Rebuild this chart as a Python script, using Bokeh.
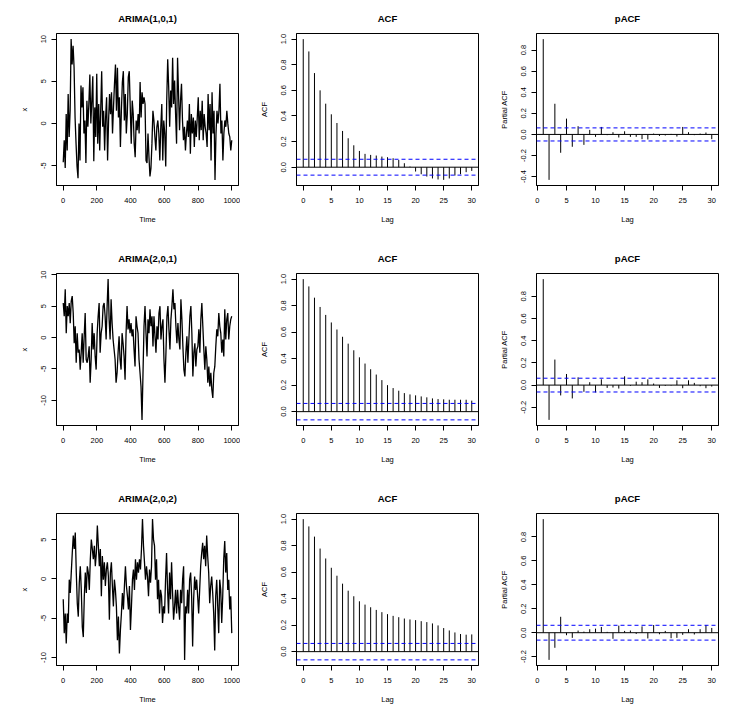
import numpy as np
from bokeh.plotting import figure
from bokeh.layouts import gridplot
from bokeh.models import Range1d, FixedTicker, Span, PrintfTickFormatter
from bokeh.embed import file_html
from bokeh.resources import INLINE

# ---------------- data ----------------
ts_titles = ["ARIMA(1,0,1)", "ARIMA(2,0,1)", "ARIMA(2,0,2)"]
n_obs = 1000

ts1_values = [-4.6, -2.0, -5.3, 1.1, -3.2, 3.5, -1.6, 1.5, 10.0, 7.0, 9.2, 6.6, 0.7, -2.4, -5.1, -6.5, 0.0, -4.4, 4.5, 1.9,
              4.3, -1.2, 0.35, -4.7, 2.7, -0.4, 2.3, 5.8, 0.0, 2.7, 5.6, -4.5, 1.9, -1.6, 5.9, -2.4, 2.3, -3.2, 1.5, 6.2,
              -0.4, 1.5, -3.2, 0.7, 3.1, -4.4, 0.35, 3.5, 1.1, 3.7, -1.2, 1.9, 4.7, 7.0, 1.5, 6.6, 0.7, 3.1, -2.8, 1.5,
              4.9, 6.2, 0.35, 3.5, -1.2, 1.1, 5.5, 6.2, 1.9, -2.4, 2.7, 1.1, -2.4, -4.0, 0.35, -0.8, 1.1, -1.2, 4.9, 0.7,
              3.7, 2.3, 3.1, 2.3, -4.4, -4.7, -1.2, -4.0, -6.3, -5.3, -2.4, 1.5, 0.35, -1.6, -3.2, -0.4, 0.35, -1.2, -4.4, -0.4,
              2.3, -4.4, 0.35, -1.2, -5.1, 2.7, 7.6, 4.3, -0.4, 3.9, 1.9, 7.8, 2.3, 5.1, 1.1, -2.4, 7.8, 3.5, -0.8, 2.7,
              4.7, 0.35, -2.0, -0.4, -3.2, -1.2, 0.35, -1.6, 2.3, -3.6, 1.1, -1.2, 0.7, -2.8, 0.35, -1.6, 0.7, 3.1, -2.0, 1.5,
              -0.8, 2.7, -2.0, 1.1, -0.4, -1.2, -2.8, 3.5, -0.8, 2.3, -4.4, 3.7, -1.2, 1.5, -6.7, -1.2, 1.5, 0.0, 1.5, 4.7,
              -1.2, 0.35, -4.4, -1.2, 0.35, -0.4, 1.5, 0.0, -1.2, -1.6, -3.2, -2.0]

ts2_values = [5.5, 3.4, 7.7, 0.7, 5.0, 3.4, 5.5, 2.3, 5.8, 6.6, 3.9, -0.9, 1.8, -4.0, 0.7, -2.4, -1.9, -5.1, -2.4, 0.7,
              -4.0, 0.2, 3.9, -3.5, -4.0, -3.0, -1.4, -7.2, -3.5, 2.3, -1.9, 0.7, -3.0, -5.1, 0.7, 3.4, 5.5, -2.4, 0.7, 1.8,
              5.0, 5.5, 3.4, -0.3, 5.0, 9.3, 2.9, -0.3, 6.1, 2.3, -0.3, -1.9, -3.5, -7.2, -5.6, -2.4, 0.2, -3.5, -5.1, 0.7,
              -0.9, -3.0, -6.7, 0.7, 5.0, 1.3, 2.9, 0.7, 2.3, 0.2, 1.3, -1.9, -4.6, 3.4, 1.8, 0.7, -3.5, -5.6, -7.8, -13.1,
              -5.6, 1.8, 5.0, 0.7, -3.0, 2.9, 0.7, 4.5, 1.8, 3.4, -1.4, 3.4, 0.2, -2.4, 1.8, -0.3, 3.9, 5.0, -0.3, 1.8,
              2.9, -3.5, -7.2, -2.4, 3.4, 5.0, 1.3, -1.9, 2.9, 5.0, 7.7, 4.5, 5.5, 1.8, -0.9, 2.3, -0.3, -1.9, 6.1, 2.9,
              -1.4, -5.1, -6.2, -2.4, 0.2, -4.0, -0.3, 3.4, 5.0, 0.7, -6.2, -2.4, -0.9, -4.6, -1.9, -1.4, 1.3, -2.4, 2.9, 5.5,
              1.8, -1.9, -5.1, -1.4, -3.5, -7.2, -4.6, -7.8, -5.6, -8.3, -9.6, -5.6, -4.6, -1.4, 1.3, 0.2, 3.9, 1.8, 0.7, -2.4,
              -0.3, -3.0, 4.5, -0.3, 2.9, 3.9, -0.3, 1.8, 2.9, 3.4]

ts3_values = [-2.6, -6.9, -4.4, -8.2, -4.4, -5.6, -0.1, -1.8, 0.8, 3.3, 5.5, 3.8, 5.9, 0.8, -3.1, -4.8, -0.5, 1.6, -1.4, -6.1,
              -7.4, -2.2, 0.8, -1.8, 1.6, 0.8, -1.4, 2.5, 5.0, 3.8, 2.5, 4.2, 1.6, 3.3, 6.8, 4.2, 1.6, 3.8, -2.2, 2.9,
              -0.1, 2.1, -0.9, 1.2, 2.1, 0.3, -5.2, 0.8, 2.1, -0.9, -3.5, -0.1, -1.4, -3.5, -7.8, -4.8, -9.5, -6.5, -4.4, -1.8,
              -3.9, -0.9, 1.6, -0.9, -2.2, -3.9, -0.9, -6.5, -3.5, -0.1, 1.2, -1.4, 2.5, -0.1, 2.1, 0.8, 2.5, 1.2, 3.8, 7.6,
              4.2, 2.1, -0.1, 1.6, 0.3, -2.2, 1.2, -0.5, 1.6, 7.6, 5.0, 4.2, -0.1, 2.5, -2.6, -0.1, -4.4, -1.4, -2.2, -5.6,
              -3.5, -4.4, -0.1, 3.3, -1.4, -4.4, 0.8, -2.6, 2.1, -1.8, -5.2, -3.5, -1.4, -4.4, -1.4, -3.5, -5.2, -1.4, -3.1, -0.1,
              1.6, -10.3, -3.5, -4.4, -1.4, -4.4, -0.1, 0.8, -2.2, -8.6, -2.6, 0.3, -1.4, -0.1, -2.2, -4.4, -1.4, 1.6, 3.3, 4.6,
              2.5, 4.2, 1.6, 5.5, 2.9, 0.8, -3.1, -0.9, 0.3, -1.8, -4.4, -9.1, -2.2, -0.1, -3.5, -6.9, -0.1, -1.4, -5.6, -2.2,
              2.5, 4.8, 0.8, 3.3, -1.4, -0.1, -3.9, -2.2, -6.9]

acf1 = [1.0, 0.904, 0.735, 0.600, 0.496, 0.413, 0.345, 0.283, 0.226, 0.171, 0.127, 0.104, 0.096, 0.091, 0.083, 0.078,
        0.070, 0.057, 0.031, 0.005, -0.034, -0.055, -0.073, -0.088, -0.096, -0.099, -0.088, -0.065, -0.055, -0.039, -0.029]
pacf1 = [0.904, -0.431, 0.291, -0.174, 0.150, -0.117, 0.078, -0.099, 0.043, -0.023, 0.071, -0.007, 0.021, -0.029, 0.030,
         -0.023, -0.023, -0.045, -0.048, 0.008, -0.014, -0.010, 0.005, -0.020, 0.071, 0.021, -0.007, 0.008, 0.018, -0.045]
acf2 = [1.0, 0.945, 0.860, 0.790, 0.730, 0.673, 0.620, 0.565, 0.513, 0.463, 0.410, 0.363, 0.320, 0.280, 0.238, 0.200,
        0.178, 0.158, 0.140, 0.130, 0.123, 0.115, 0.108, 0.100, 0.095, 0.093, 0.090, 0.090, 0.090, 0.090, 0.083]
pacf2 = [0.954, -0.313, 0.230, -0.093, 0.100, -0.120, 0.070, -0.060, 0.026, -0.066, 0.052, -0.025, -0.022, -0.031, 0.079,
         -0.007, 0.031, 0.026, 0.052, 0.014, -0.025, -0.007, -0.004, 0.043, -0.028, 0.043, 0.020, -0.010, -0.028, -0.013]
acf3 = [1.0, 0.945, 0.868, 0.778, 0.703, 0.633, 0.573, 0.513, 0.460, 0.418, 0.380, 0.355, 0.335, 0.315, 0.298, 0.283,
        0.270, 0.260, 0.250, 0.243, 0.238, 0.230, 0.223, 0.213, 0.198, 0.178, 0.160, 0.145, 0.133, 0.128, 0.130]
pacf3 = [0.949, -0.227, -0.126, 0.133, -0.021, -0.043, 0.018, 0.009, 0.029, 0.034, 0.048, 0.007, -0.051, 0.059, 0.015,
         0.018, -0.010, 0.053, -0.048, 0.064, -0.013, 0.015, -0.046, -0.043, -0.018, 0.029, -0.015, 0.029, 0.064, 0.040]

conf_limit = 0.062

time_ticks = [0, 200, 400, 600, 800, 1000]
lag_ticks = [0, 5, 10, 15, 20, 25, 30]
ts_y_ticks = [[-5, 0, 5, 10], [-10, -5, 0, 5, 10], [-10, -5, 0, 5]]
acf_y_ticks = [0.0, 0.2, 0.4, 0.6, 0.8, 1.0]
pacf_y_ticks = [[-0.4, -0.2, 0.0, 0.2, 0.4, 0.6, 0.8], [-0.2, 0.0, 0.2, 0.4, 0.6, 0.8], [-0.2, 0.0, 0.2, 0.4, 0.6, 0.8]]

ts_series = [ts1_values, ts2_values, ts3_values]
acf_series = [acf1, acf2, acf3]
pacf_series = [pacf1, pacf2, pacf3]

# ---------------- styling ----------------
FONT = "Liberation Sans"
COL_W = 240
ROW_H = [240, 240, 231]
FRAME_W = 182
FRAME_H = 152
B_LEFT = 56
B_TOP = 33


def r_range(lo, hi):
    ext = 0.04 * (hi - lo)
    return Range1d(lo - ext, hi + ext)


def make_fig(height, title, xr, yr, xlab, ylab, xticks, yticks, yfmt):
    p = figure(width=COL_W, height=height, x_range=xr, y_range=yr, title=title,
               output_backend="svg", toolbar_location=None,
               min_border_left=B_LEFT, min_border_right=COL_W - B_LEFT - FRAME_W,
               min_border_top=B_TOP, min_border_bottom=height - B_TOP - FRAME_H)
    p.title.text_font = FONT
    p.title.text_font_size = "9.5px"
    p.title.text_font_style = "bold"
    p.title.align = "center"
    p.title.text_color = "black"
    p.title.standoff = 20
    p.grid.visible = False
    p.outline_line_color = "black"
    p.outline_line_width = 1
    p.outline_line_alpha = 1
    p.background_fill_color = "white"
    p.border_fill_color = "white"
    for ax in p.axis:
        ax.major_label_text_font = FONT
        ax.major_label_text_font_size = "7.5px"
        ax.major_label_text_color = "black"
        ax.axis_label_text_font = FONT
        ax.axis_label_text_font_size = "7.5px"
        ax.axis_label_text_font_style = "normal"
        ax.axis_label_text_color = "black"
        ax.major_tick_out = 5
        ax.major_tick_in = 0
        ax.minor_tick_line_color = None
        ax.axis_line_color = "black"
        ax.major_tick_line_color = "black"
        ax.major_label_standoff = 5
        ax.axis_label_standoff = 10
    p.xaxis.axis_label = xlab
    p.yaxis.axis_label = ylab
    p.xaxis.major_label_standoff = 7
    p.xaxis.axis_label_standoff = 9
    p.xaxis.ticker = FixedTicker(ticks=xticks)
    p.yaxis.ticker = FixedTicker(ticks=yticks)
    p.xaxis.formatter = PrintfTickFormatter(format="%d")
    p.yaxis.formatter = PrintfTickFormatter(format=yfmt)
    p.yaxis.major_label_orientation = "vertical"
    return p


rows = []
for i in range(3):
    h = ROW_H[i]
    # time series
    vals = ts_series[i]
    t = np.linspace(1, n_obs, len(vals))
    p1 = make_fig(h, ts_titles[i], r_range(1, n_obs), r_range(min(vals), max(vals)),
                  "Time", "x", time_ticks, ts_y_ticks[i], "%d")
    p1.line(t, vals, line_color="black", line_width=1.3)

    # ACF
    a = acf_series[i]
    lags = list(range(len(a)))
    p2 = make_fig(h, "ACF", r_range(0, lags[-1]),
                  r_range(min(min(a), -conf_limit), max(max(a), conf_limit)),
                  "Lag", "ACF", lag_ticks, acf_y_ticks, "%.1f")
    p2.segment(x0=lags, y0=[0] * len(a), x1=lags, y1=a, line_color="black", line_width=1)

    # PACF
    pa = pacf_series[i]
    plags = list(range(1, len(pa) + 1))
    p3 = make_fig(h, "pACF", r_range(plags[0], plags[-1]),
                  r_range(min(min(pa), -conf_limit), max(max(pa), conf_limit)),
                  "Lag", "Partial ACF", lag_ticks, pacf_y_ticks[i], "%.1f")
    p3.segment(x0=plags, y0=[0] * len(pa), x1=plags, y1=pa, line_color="black", line_width=1)

    for p in (p2, p3):
        p.add_layout(Span(location=0, dimension="width", line_color="black", line_width=1))
        for loc in (conf_limit, -conf_limit):
            p.add_layout(Span(location=loc, dimension="width", line_color="blue",
                              line_width=1, line_dash="4 3"))
    rows.append([p1, p2, p3])

grid = gridplot(rows, toolbar_location=None)

open("out.html", "w").write(file_html(grid, INLINE))
